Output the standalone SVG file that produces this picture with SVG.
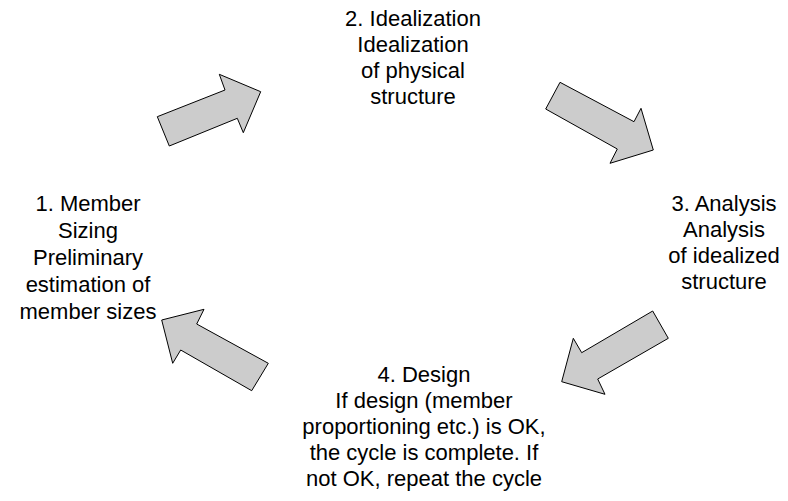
<svg xmlns="http://www.w3.org/2000/svg" width="788" height="501" viewBox="0 0 788 501">
<style>
.lbl{font-family:"Liberation Sans",Arial,sans-serif;font-size:22px;fill:#000;text-anchor:middle}
.arr{fill:#cccccc;stroke:#000;stroke-width:1;stroke-linejoin:miter}
</style>
<rect width="788" height="501" fill="#fff"/>
<g id="connectors">
<polygon class="arr" points="157.3,116.7 225,90 219.3,74.3 260.7,91.7 243.3,132.7 237.3,118.3 169.3,146"/>
<polygon class="arr" points="560,82.3 634,121.7 641,108.3 653.3,150 610,163.3 617.3,149 545.7,109"/>
<polygon class="arr" points="652.7,311 668.3,338.3 597.7,379 605,394.3 561.7,381.7 573.3,338.3 581.7,352.7"/>
<polygon class="arr" points="268.3,363.3 251.7,390.7 180.7,350 172.7,363.3 161.7,320 204,309.3 196.7,324"/>
</g>
<g id="node1">
<text class="lbl" x="88" y="211">1. Member</text>
<text class="lbl" x="88" y="238">Sizing</text>
<text class="lbl" x="88" y="265">Preliminary</text>
<text class="lbl" x="88" y="292">estimation of</text>
<text class="lbl" x="88" y="319">member sizes</text>
</g>
<g id="node2">
<text class="lbl" x="413" y="26">2. Idealization</text>
<text class="lbl" x="413" y="52">Idealization</text>
<text class="lbl" x="413" y="78">of physical</text>
<text class="lbl" x="413" y="104">structure</text>
</g>
<g id="node3">
<text class="lbl" x="724" y="211">3. Analysis</text>
<text class="lbl" x="724" y="237">Analysis</text>
<text class="lbl" x="724" y="263">of idealized</text>
<text class="lbl" x="724" y="289">structure</text>
</g>
<g id="node4">
<text class="lbl" x="424" y="382">4. Design</text>
<text class="lbl" x="424" y="408">If design (member</text>
<text class="lbl" x="424" y="434">proportioning etc.) is OK,</text>
<text class="lbl" x="424" y="460">the cycle is complete. If</text>
<text class="lbl" x="424" y="486">not OK, repeat the cycle</text>
</g>
</svg>
